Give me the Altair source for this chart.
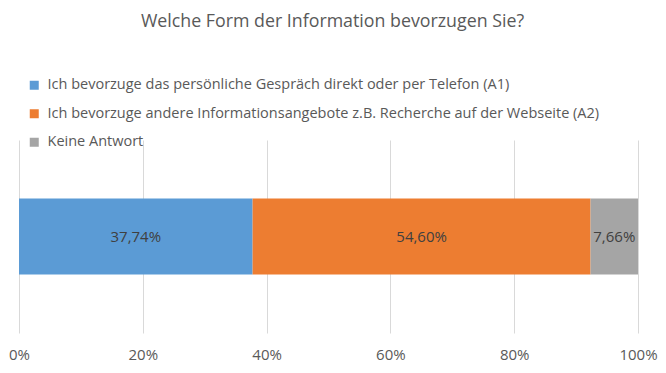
import altair as alt
import pandas as pd

title_text = "Welche Form der Information bevorzugen Sie?"
categories = [
    "Ich bevorzuge das persönliche Gespräch direkt oder per Telefon (A1)",
    "Ich bevorzuge andere Informationsangebote z.B. Recherche auf der Webseite (A2)",
    "Keine Antwort",
]
values = [37.74, 54.60, 7.66]
colors = ["#5B9BD5", "#ED7D31", "#A5A5A5"]
tick_values = [0, 0.2, 0.4, 0.6, 0.8, 1.0]

df = pd.DataFrame({
    "cat": categories,
    "val": [v / 100 for v in values],
    "order": list(range(len(categories))),
    "label": [f"{v:.2f}".replace(".", ",") + "%" for v in values],
    "row": ["Q"] * len(categories),
})

FONT = "Open Sans"

base = (
    alt.Chart(df)
    .transform_stack(stack="val", groupby=["row"], as_=["x0", "x1"],
                     sort=[alt.SortField("order", order="ascending")])
    .transform_calculate(mid="(datum.x0 + datum.x1) / 2")
)

yenc = alt.Y("row:N", axis=None, scale=alt.Scale(paddingInner=0, paddingOuter=0.77))

bars = base.mark_bar().encode(
    x=alt.X("x0:Q", title=None,
            scale=alt.Scale(domain=[0, 1], nice=False),
            axis=alt.Axis(values=tick_values, format=".0%", grid=True,
                          gridColor="#D9D9D9", gridWidth=1, domain=False, ticks=False,
                          labelFont=FONT, labelFontSize=15, labelColor="#595959",
                          labelPadding=14, labelFlush=False, labelBound=False)),
    x2="x1:Q",
    y=yenc,
    color=alt.Color("cat:N", scale=alt.Scale(domain=categories, range=colors),
                    legend=alt.Legend(title=None, orient="none", legendX=8, legendY=-62,
                                      direction="vertical", symbolType="square",
                                      symbolSize=81, symbolStrokeWidth=0,
                                      labelFont=FONT, labelFontSize=14.5,
                                      labelColor="#595959", rowPadding=13.5,
                                      labelOffset=6, padding=0, labelLimit=1000)),
)

text = base.mark_text(font=FONT, fontSize=15, color="#404040").encode(
    x=alt.X("mid:Q"),
    y=yenc,
    text="label:N",
)

chart = (
    alt.layer(bars, text)
    .properties(
        width=619, height=193,
        autosize=alt.AutoSizeParams(type="none"),
        padding={"left": 11, "top": 132, "right": 20, "bottom": 32},
        title=alt.TitleParams(text=title_text, font=FONT, fontSize=17.8,
                              fontWeight="normal", color="#595959",
                              anchor="middle", frame="group", baseline="alphabetic",
                              offset=33, dx=4),
    )
    .configure_view(stroke=None)
)

chart.save("out.html", embed_options={"renderer": "svg", "actions": False})
